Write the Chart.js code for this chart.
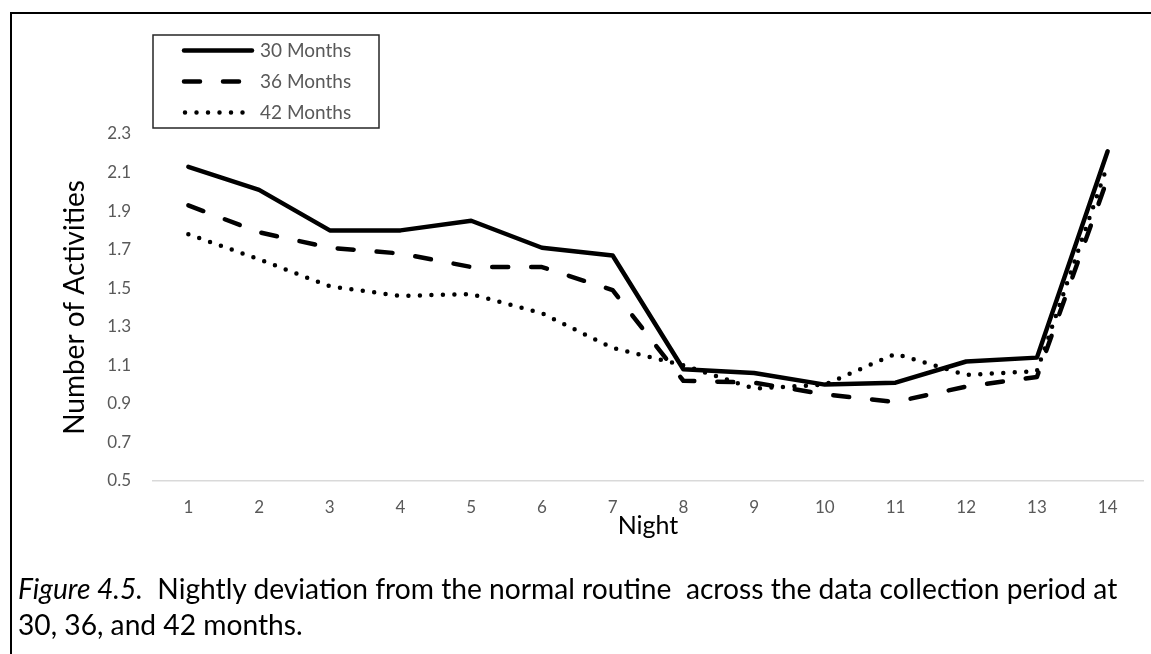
<!DOCTYPE html>
<html>
<head>
<meta charset="utf-8">
<script src="https://cdn.jsdelivr.net/npm/chart.js@4.4.0/dist/chart.umd.min.js"></script>
<style>
  html, body { margin: 0; padding: 0; background: #fff; width: 1151px; height: 654px; overflow: hidden; }
  #frame { position: absolute; left: 10px; top: 12px; width: 1300px; height: 800px;
           border-left: 2.5px solid #000; border-top: 2.5px solid #000; box-sizing: border-box; }
  #wrap { position: absolute; left: 0; top: 0; width: 1151px; height: 654px; }
  #caption { position: absolute; left: 18px; top: 570px; font-family: Lato, "Open Sans", sans-serif;
             font-size: 28.2px; line-height: 36px; color: #000; white-space: pre; }
</style>
</head>
<body>
<div id="frame"></div>
<div id="wrap"><canvas id="c" width="1151" height="654"></canvas></div>
<div id="caption"><i>Figure 4.5.</i>  Nightly deviation from the normal routine  across the data collection period at
30, 36, and 42 months.</div>
<script>
const nights = ["1","2","3","4","5","6","7","8","9","10","11","12","13","14"];
const months30 = [2.13, 2.01, 1.80, 1.80, 1.85, 1.71, 1.67, 1.08, 1.06, 1.00, 1.01, 1.12, 1.14, 2.21];
const months36 = [1.93, 1.79, 1.71, 1.68, 1.61, 1.61, 1.49, 1.02, 1.01, 0.95, 0.91, 0.99, 1.04, 2.07];
const months42 = [1.78, 1.65, 1.51, 1.46, 1.47, 1.37, 1.19, 1.10, 0.98, 1.00, 1.16, 1.05, 1.07, 2.14];
const seriesNames = ["30 Months", "36 Months", "42 Months"];
const yMin = 0.5, yMax = 2.3, yStep = 0.2;

const FONT = "Lato, 'Open Sans', sans-serif";
const TICK_COLOR = "#595959";

const boxLegend = {
  id: "boxLegend",
  afterDraw(chart) {
    const ctx = chart.ctx;
    const x0 = 153, y0 = 35, w = 226, h = 93;
    ctx.save();
    ctx.strokeStyle = "#262626";
    ctx.lineWidth = 1.5;
    ctx.strokeRect(x0, y0, w, h);
    const rows = [50.5, 81.5, 112.5];
    chart.data.datasets.forEach((ds, i) => {
      const y = rows[i];
      ctx.beginPath();
      ctx.setLineDash(ds.borderDash || []);
      ctx.lineCap = ds.borderCapStyle || "butt";
      ctx.lineWidth = ds.borderWidth;
      ctx.strokeStyle = ds.borderColor;
      ctx.moveTo(i === 2 ? 185 : 184, y);
      ctx.lineTo(252, y);
      ctx.stroke();
      ctx.setLineDash([]);
      ctx.fillStyle = TICK_COLOR;
      ctx.font = "19px " + FONT;
      ctx.textBaseline = "middle";
      ctx.textAlign = "left";
      ctx.fillText(ds.label, 260, y);
    });
    ctx.restore();
  }
};

new Chart(document.getElementById("c"), {
  type: "line",
  data: {
    labels: nights,
    datasets: [
      { label: seriesNames[0], data: months30, borderColor: "#000", borderWidth: 4.5,
        borderCapStyle: "round", borderJoinStyle: "round", pointRadius: 0, tension: 0, fill: false },
      { label: seriesNames[1], data: months36, borderColor: "#000", borderWidth: 4.5,
        borderDash: [16, 23], borderCapStyle: "round", borderJoinStyle: "round", pointRadius: 0, tension: 0, fill: false },
      { label: seriesNames[2], data: months42, borderColor: "#000", borderWidth: 4.5,
        borderDash: [0, 11.5], borderCapStyle: "round", borderJoinStyle: "round", pointRadius: 0, tension: 0, fill: false }
    ]
  },
  options: {
    responsive: false,
    animation: false,
    devicePixelRatio: 1,
    layout: { padding: { left: 0, top: 134, right: 8, bottom: 103 } },
    plugins: { legend: { display: false }, tooltip: { enabled: false } },
    scales: {
      x: {
        type: "category",
        offset: true,
        grid: { display: false, drawTicks: false },
        border: { display: true, color: "#d9d9d9", width: 1.5 },
        ticks: { color: TICK_COLOR, font: { family: FONT, size: 17 }, padding: 16, maxRotation: 0, autoSkip: false },
        title: { display: true, text: "Night", color: "#000", font: { family: FONT, size: 25 }, padding: { top: 0, bottom: 10 } },
        afterFit(scale) { scale.height = 70; }
      },
      y: {
        min: yMin, max: yMax,
        grid: { display: false, drawTicks: false },
        border: { display: false },
        ticks: {
          stepSize: yStep, color: TICK_COLOR, font: { family: FONT, size: 17 }, padding: 22,
          callback: (v) => Number(v).toFixed(1)
        },
        title: { display: true, text: "Number of Activities", color: "#000", font: { family: FONT, size: 28 }, padding: { top: 58, bottom: 0 } },
        afterFit(scale) { scale.width = 153; }
      }
    }
  },
  plugins: [boxLegend]
});
</script>
</body>
</html>
